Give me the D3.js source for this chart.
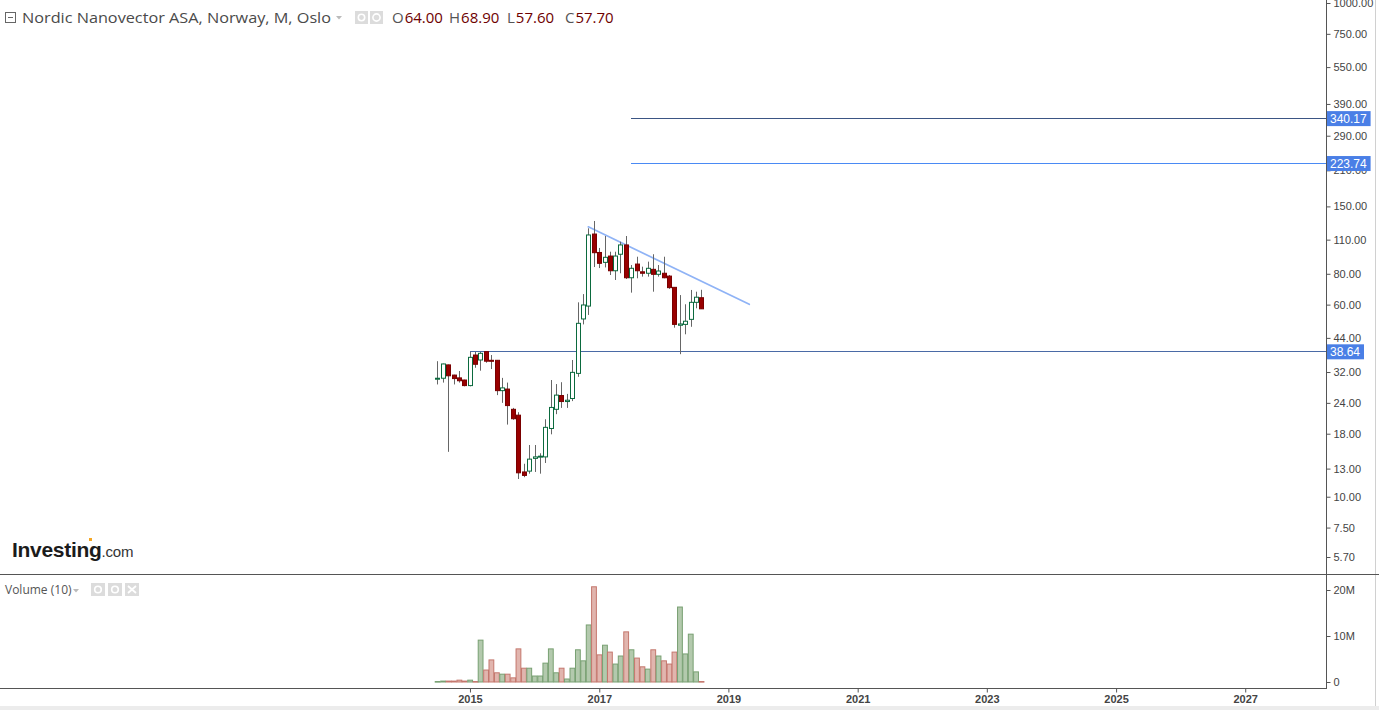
<!DOCTYPE html>
<html><head><meta charset="utf-8">
<script src="https://cdn.jsdelivr.net/npm/d3@7/dist/d3.min.js"></script>
<style>
html,body{margin:0;padding:0;background:#fff;overflow:hidden;}
svg{display:block;}
</style></head><body>
<svg id="c" width="1379" height="710"></svg>
<script>
// ---------- DATA ----------
const months = ["2014-07","2014-08","2014-09","2014-10","2014-11","2014-12",
"2015-01","2015-02","2015-03","2015-04","2015-05","2015-06","2015-07","2015-08","2015-09","2015-10","2015-11","2015-12",
"2016-01","2016-02","2016-03","2016-04","2016-05","2016-06","2016-07","2016-08","2016-09","2016-10","2016-11","2016-12",
"2017-01","2017-02","2017-03","2017-04","2017-05","2017-06","2017-07","2017-08","2017-09","2017-10","2017-11","2017-12",
"2018-01","2018-02","2018-03","2018-04","2018-05","2018-06","2018-07","2018-08"];
const openP  = [30.0,30.2,34.2,31.1,30.3,29.7, 28.2,37.5,35.8,38.7,35.7,35.7,26.9,27.3,22.6,21.4,12.6,12.7,
  14.3,14.5,14.5,18.9,22.6,25.7,24.3,25.0,31.6,52.5,59.2,115.9, 97.6,89.0,94.4,82.3,96.0,104.7,77.1,87.6,81.5,80.4,83.4,79.6,
  80.4,78.3,70.5,49.5,49.9,52.3,61.3,64.0];
const highP  = [35.4,34.6,34.3,31.2,32.3,29.8, 38.64,38.6,38.6,38.7,37.5,35.8,30.3,29.0,22.9,22.0,13.6,16.2,
  16.2,15.0,20.6,29.7,28.6,29.1,26.1,35.8,61.3,66.2,122.3,130.9, 101.8,113.8,98.3,98.3,107.9,113.8,86.8,93.8,85.5,89.6,96.0,86.8,
  93.8,79.1,70.6,65.6,60.2,68.8,67.7,68.9];
const lowP   = [28.5,29.0,15.2,28.5,29.0,28.0, 28.0,33.3,32.4,34.9,32.9,25.8,24.0,19.6,20.5,11.8,12.0,12.4,
  12.6,12.4,13.7,17.9,21.6,22.9,22.9,24.4,30.6,49.9,54.5,85.2, 84.4,84.9,79.1,75.5,80.4,76.2,67.1,76.7,77.9,77.9,67.7,77.9,
  76.7,69.5,48.4,37.8,45.5,48.8,58.0,57.6];
const closeP = [30.2,34.5,30.9,30.1,29.5,28.2, 36.7,34.4,38.1,35.4,35.4,26.9,27.6,23.4,20.7,12.5,12.2,14.2,
  14.5,14.6,19.1,23.0,25.8,24.3,24.6,31.9,50.4,59.8,114.9,97.4, 88.2,93.3,82.3,94.4,104.7,77.1,84.2,82.3,80.4,84.2,79.6,82.1,
  77.1,70.3,49.9,50.1,51.4,61.3,64.3,57.7];
const volumeM = [0.1,0.2,0.2,0.2,0.4,0.2, 0.4,0.1,9.1,2.6,4.8,2.0,1.7,1.7,0.9,7.2,3.0,3.0,
  1.3,1.3,4.1,7.2,2.0,3.0,0.65,3.0,7.0,4.6,12.4,20.7, 5.9,8.0,6.5,3.9,5.65,10.9,7.0,5.2,3.3,2.8,7.0,5.65,
  4.6,3.9,6.5,16.3,6.1,10.4,2.2,0.1];
const priceTicks = [1000,750,550,390,290,210,150,110,80,60,44,32,24,18,13,10,7.5,5.7];
const volumeTicks = [0,10,20];
const yearTicks = ["2015","2017","2019","2021","2023","2025","2027"];
const levelValues = [340.17, 223.74, 38.64];
const levelStarts = ["2017-07","2017-07","2015-01"];
const trendDates = ["2016-10-31","2019-04-29"];
const trendValues = [124.0, 60.2];
const headerTitle = "Nordic Nanovector ASA, Norway, M, Oslo";
const headerOHLC = [["O","64.00"],["H","68.90"],["L","57.60"],["C","57.70"]];

// ---------- SCALES ----------
const parseM = d3.timeParse("%Y-%m");
const parseD = d3.timeParse("%Y-%m-%d");
const axisX = 1326;
const x = d3.scaleTime().domain([new Date(2007,8,23), new Date(2028,2,27)]).range([0,1325]);
const y = d3.scaleLog().domain([1000,5.7]).range([3,557]);
const yv = d3.scaleLinear().domain([0,20]).range([682,590]);

const svg = d3.select("#c");
const font = "'Liberation Sans', Arial, sans-serif";

const bars = months.map((m,i)=>({d:parseM(m),o:openP[i],h:highP[i],l:lowP[i],c:closeP[i],v:volumeM[i],up:closeP[i]>=openP[i]}));

const defs = svg.append("defs");
defs.append("clipPath").attr("id","mainClip").append("rect").attr("x",0).attr("y",0).attr("width",axisX).attr("height",574);

// ---------- frame ----------
svg.append("rect").attr("x",0).attr("y",706).attr("width",1379).attr("height",4).attr("fill","#ececec");
svg.append("line").attr("x1",1375.5).attr("x2",1375.5).attr("y1",0).attr("y2",706).attr("stroke","#d0d0d0");
svg.append("line").attr("x1",0).attr("x2",1379).attr("y1",574.5).attr("y2",574.5).attr("stroke","#555");
svg.append("line").attr("x1",axisX+0.5).attr("x2",axisX+0.5).attr("y1",0).attr("y2",689).attr("stroke","#555");

// ---------- main panel ----------
const main = svg.append("g").attr("clip-path","url(#mainClip)");

levelValues.forEach((v,i)=>{
  const yy = Math.floor(y(v))+0.5;
  main.append("line").attr("x1",Math.round(x(parseM(levelStarts[i]))))
    .attr("x2",axisX).attr("y1",yy).attr("y2",yy)
    .attr("stroke", i===1 ? "#4a8af4" : (i===0 ? "#3b5584" : "#4a6aa6")).attr("stroke-width", i===1 ? 1.2 : 1);
});

main.append("line")
  .attr("x1",x(parseD(trendDates[0]))).attr("y1",y(trendValues[0]))
  .attr("x2",x(parseD(trendDates[1]))).attr("y2",y(trendValues[1]))
  .attr("stroke","#8fb3f6").attr("stroke-width",1.7).attr("stroke-linecap","round");

const cg = main.append("g");
bars.forEach(b=>{
  const cx = Math.round(x(b.d));
  cg.append("line").attr("x1",cx+0.5).attr("x2",cx+0.5).attr("y1",y(b.h)).attr("y2",y(b.l))
    .attr("stroke","#666").attr("stroke-width",1);
  const top = Math.min(y(b.o),y(b.c)), bot = Math.max(y(b.o),y(b.c));
  cg.append("rect").attr("x",cx-1.5).attr("y",top).attr("width",4).attr("height",Math.max(bot-top,1))
    .attr("fill", b.up ? "#ffffff" : "#990000")
    .attr("stroke", b.up ? "#0b6a3e" : "#7a0000").attr("stroke-width",1);
});

const ya = svg.append("g").attr("transform",`translate(${axisX+0.5},0)`)
  .call(d3.axisRight(y).tickValues(priceTicks).tickFormat(d3.format(".2f")).tickSize(4).tickPadding(3));
ya.select(".domain").remove();
ya.selectAll("line").attr("stroke","#555");
ya.selectAll("text").attr("fill","#444").style("font-family",font).style("font-size","11px");

levelValues.forEach((v,i)=>{
  const t = d3.format(".2f")(v);
  const w = t.length*6.6+4;
  const yy = y(v);
  svg.append("rect").attr("x",axisX+1).attr("y",yy-7.5).attr("width",w).attr("height",15).attr("fill","#4a7fe6");
  svg.append("text").attr("x",axisX+4).attr("y",yy+4.5).attr("fill","#fff")
    .style("font-family",font).style("font-size","12px").text(t);
});

// ---------- volume panel ----------
const vg = svg.append("g");
bars.forEach(b=>{
  const cx = x(b.d);
  const yt = yv(b.v);
  vg.append("rect").attr("x",cx-2.2).attr("y",yt).attr("width",4.8).attr("height",Math.max(yv(0)-yt,0.6))
    .attr("fill", b.up ? "#b3c9ad" : "#e1b5ae")
    .attr("stroke", b.up ? "#78a072" : "#c4776d").attr("stroke-width",1);
});
const va = svg.append("g").attr("transform",`translate(${axisX+0.5},0)`)
  .call(d3.axisRight(yv).tickValues(volumeTicks).tickFormat(d=>d===0?"0":d+"M").tickSize(4).tickPadding(3));
va.select(".domain").remove();
va.selectAll("line").attr("stroke","#555");
va.selectAll("text").attr("fill","#444").style("font-family",font).style("font-size","11px");

svg.append("line").attr("x1",0).attr("x2",axisX).attr("y1",688.5).attr("y2",688.5).attr("stroke","#555");
const xa = svg.append("g").attr("transform","translate(0,688.5)")
  .call(d3.axisBottom(x).tickValues(yearTicks.map(s=>new Date(+s,0,1))).tickFormat(d3.timeFormat("%Y")).tickSize(4).tickPadding(3));
xa.select(".domain").remove();
xa.selectAll("line").attr("stroke","#555");
xa.selectAll("text").attr("fill","#444").style("font-family",font).style("font-size","11px").style("font-weight","bold");

// ---------- header ----------
const hf = "'Open Sans', 'DejaVu Sans', sans-serif";
svg.append("rect").attr("x",5.5).attr("y",12.5).attr("width",10).attr("height",10).attr("fill","none").attr("stroke","#666");
svg.append("line").attr("x1",8).attr("x2",13).attr("y1",17.5).attr("y2",17.5).attr("stroke","#666");
svg.append("text").attr("x",22).attr("y",23).attr("fill","#4a4a4a").style("font-family",hf).style("font-size","15px")
  .attr("textLength",309).attr("lengthAdjust","spacingAndGlyphs").text(headerTitle);
svg.append("path").attr("d","M336,16 L342,16 L339,19.5 Z").attr("fill","#bbb");
[355,370].forEach((bx,i)=>{
  svg.append("rect").attr("x",bx).attr("y",11).attr("width",13).attr("height",13).attr("fill","#dcdcdc");
  svg.append("circle").attr("cx",bx+6.5).attr("cy",17.5).attr("r",i===0?3.2:3.6).attr("fill","none").attr("stroke","#fff").attr("stroke-width",1.6);
});
const ohlcX = [392,449,507,565];
headerOHLC.forEach((p,i)=>{
  const t = svg.append("text").attr("x",ohlcX[i]).attr("y",23).style("font-family",hf).style("font-size","15px");
  t.append("tspan").attr("fill","#555").text(p[0]);
  t.append("tspan").attr("fill","#6e0000").attr("dx",1).text(p[1]);
});

// Investing.com logo
const logo = svg.append("text").attr("x",12).attr("y",557).style("font-family","'Liberation Sans', Arial, sans-serif");
logo.append("tspan").attr("fill","#1b1b1b").style("font-size","21px").style("font-weight","bold").attr("letter-spacing","-0.3").text("Investing");
logo.append("tspan").attr("fill","#333").style("font-size","15px").attr("letter-spacing","-0.2").text(".com");
svg.append("rect").attr("x",89).attr("y",538).attr("width",3).attr("height",3).attr("fill","#f5a623");

// volume label
svg.append("text").attr("x",5).attr("y",594).attr("fill","#555").style("font-family",hf).style("font-size","12px").text("Volume (10)");
svg.append("path").attr("d","M73,589 L79,589 L76,592.5 Z").attr("fill","#bbb");
[91,108,125].forEach((bx,i)=>{
  svg.append("rect").attr("x",bx).attr("y",583).attr("width",14).attr("height",13).attr("fill","#dcdcdc");
  if(i<2) svg.append("circle").attr("cx",bx+7).attr("cy",589.5).attr("r",3.3).attr("fill","none").attr("stroke","#fff").attr("stroke-width",1.6);
  else { svg.append("path").attr("d",`M${bx+3},586 L${bx+11},593 M${bx+11},586 L${bx+3},593`).attr("stroke","#fff").attr("stroke-width",1.8); }
});
</script>
</body></html>
